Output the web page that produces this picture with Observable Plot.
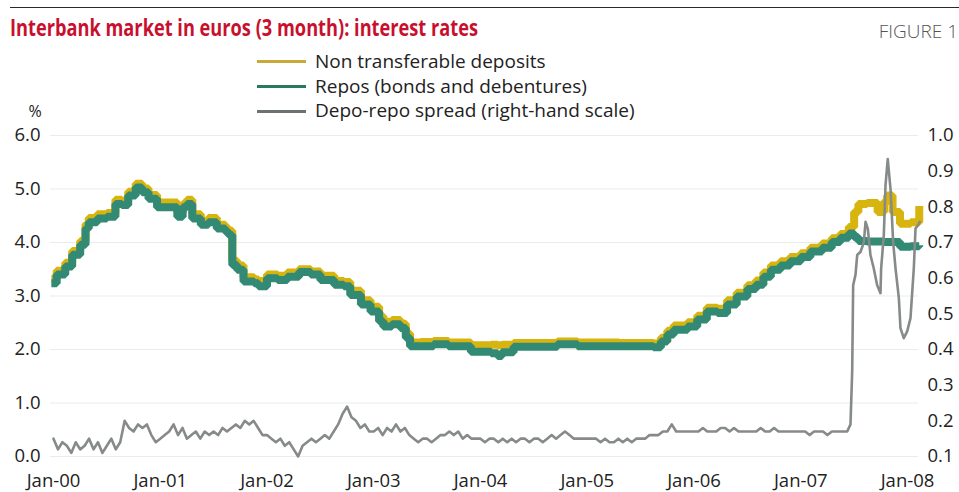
<!DOCTYPE html>
<html>
<head>
<meta charset="utf-8">
<script src="https://cdn.jsdelivr.net/npm/d3@7"></script>
<script src="https://cdn.jsdelivr.net/npm/@observablehq/plot@0.6"></script>
<style>
  html, body { margin: 0; padding: 0; background: #fff; }
  #wrap { position: relative; width: 959px; height: 492px; overflow: hidden; font-family: "Open Sans", sans-serif; }
  #rule { position: absolute; left: 10px; top: 7px; width: 949px; border-top: 1.5px solid #2a2a2a; }
  #title { position: absolute; left: 10px; top: 16px; font-size: 23px; line-height: 1; font-weight: 700; color: #c8102e; white-space: nowrap; transform-origin: left top; }
  #fig { position: absolute; right: 1px; top: 22px; font-size: 19px; line-height: 1; font-weight: 300; color: #555; white-space: nowrap; }
  .leg { position: absolute; left: 257px; width: 49px; height: 0; border-top: 3.5px solid; }
  .legt { position: absolute; left: 315px; font-size: 19px; line-height: 1; color: #222; white-space: nowrap; }
  #chart { position: absolute; left: 0; top: 100px; }
</style>
</head>
<body>
<div id="wrap">
  <div id="rule"></div>
  <div id="title">Interbank market in euros (3 month): interest rates</div>
  <div id="fig">FIGURE 1</div>
  <div id="chart"></div>
  <div class="leg" style="top:60px;border-color:#c9a93b"></div>
  <div class="legt" style="top:52px">Non transferable deposits</div>
  <div class="leg" style="top:85px;border-color:#257a5f"></div>
  <div class="legt" style="top:77px">Repos (bonds and debentures)</div>
  <div class="leg" style="top:110px;border-color:#6b7270"></div>
  <div class="legt" style="top:101px">Depo-repo spread (right-hand scale)</div>
</div>
<script>
// ---- data (decimal years) ----
const rateTimes = [1999.98, 2000.03, 2000.11, 2000.175, 2000.25, 2000.30, 2000.33, 2000.41, 2000.50, 2000.58, 2000.64, 2000.70, 2000.77, 2000.83, 2000.89, 2000.97,
  2001.10, 2001.16, 2001.21, 2001.25, 2001.30, 2001.38, 2001.45, 2001.53, 2001.61, 2001.64, 2001.675, 2001.72, 2001.78, 2001.88, 2001.92,
  2002.00, 2002.10, 2002.19, 2002.30, 2002.41, 2002.50, 2002.63, 2002.72, 2002.78, 2002.88, 2002.97,
  2003.05, 2003.09, 2003.17, 2003.25, 2003.30, 2003.34, 2003.44, 2003.56, 2003.70, 2003.91,
  2004.10, 2004.16, 2004.20, 2004.31, 2004.72, 2004.91, 2005.30, 2005.62, 2005.69, 2005.75, 2005.81, 2005.94,
  2006.03, 2006.12, 2006.22, 2006.31, 2006.40, 2006.50, 2006.58, 2006.65, 2006.72, 2006.81, 2006.90,
  2007.00, 2007.09, 2007.20, 2007.29, 2007.37, 2007.45, 2007.50, 2007.54, 2007.62, 2007.72, 2007.78, 2007.81, 2007.86, 2007.93, 2008.03, 2008.11];
const repos = [3.24, 3.40, 3.55, 3.77, 3.96, 4.26, 4.38, 4.45, 4.48, 4.72, 4.70, 4.88, 5.03, 4.94, 4.82, 4.66,
  4.66, 4.48, 4.66, 4.72, 4.45, 4.33, 4.38, 4.26, 4.20, 4.14, 3.58, 3.49, 3.27, 3.24, 3.18,
  3.33, 3.30, 3.36, 3.45, 3.40, 3.30, 3.21, 3.18, 3.02, 2.84, 2.71,
  2.53, 2.43, 2.47, 2.40, 2.22, 2.06, 2.06, 2.10, 2.06, 1.96,
  1.93, 1.88, 1.95, 2.05, 2.10, 2.06, 2.06, 2.04, 2.15, 2.28, 2.37, 2.43,
  2.56, 2.71, 2.68, 2.84, 2.99, 3.13, 3.21, 3.36, 3.49, 3.57, 3.65,
  3.73, 3.83, 3.90, 4.01, 4.09, 4.17, 4.10, 4.03, 4.02, 4.02, 4.01, 4.01, 4.01, 3.92, 3.93, 3.95];
const deposits = [3.32, 3.47, 3.62, 3.84, 4.03, 4.34, 4.46, 4.53, 4.55, 4.80, 4.78, 4.95, 5.10, 5.01, 4.89, 4.75,
  4.75, 4.56, 4.72, 4.80, 4.53, 4.40, 4.46, 4.33, 4.27, 4.22, 3.66, 3.57, 3.35, 3.31, 3.28,
  3.40, 3.38, 3.44, 3.50, 3.46, 3.38, 3.28, 3.26, 3.10, 2.92, 2.80,
  2.62, 2.52, 2.55, 2.48, 2.30, 2.13, 2.14, 2.16, 2.13, 2.08,
  2.09, 2.08, 2.09, 2.12, 2.15, 2.13, 2.12, 2.11, 2.22, 2.35, 2.45, 2.51,
  2.63, 2.78, 2.76, 2.92, 3.06, 3.20, 3.29, 3.44, 3.57, 3.65, 3.73,
  3.80, 3.90, 3.98, 4.08, 4.16, 4.29, 4.57, 4.72, 4.74, 4.57, 4.76, 4.88, 4.57, 4.35, 4.38, 4.68];

// spread (right-hand scale), semimonthly from Jan 2000 to May 2007
const spreadStart = 2000, spreadStep = 1 / 24;
const spreadSemimonthly = [
  0.15,0.12,0.14,0.13,0.11,0.14,0.12,0.13,0.15,0.12,0.14,0.11,0.13,0.15,0.12,0.14,0.20,0.18,0.17,0.19,0.18,0.19,0.16,0.14,
  0.15,0.16,0.17,0.19,0.16,0.18,0.15,0.16,0.17,0.15,0.17,0.16,0.17,0.16,0.18,0.17,0.18,0.19,0.18,0.20,0.19,0.20,0.18,0.16,
  0.16,0.15,0.14,0.15,0.13,0.14,0.12,0.10,0.13,0.14,0.15,0.14,0.15,0.16,0.15,0.17,0.19,0.22,0.24,0.21,0.20,0.18,0.19,0.17,
  0.17,0.18,0.16,0.18,0.17,0.19,0.17,0.18,0.16,0.15,0.14,0.15,0.15,0.14,0.15,0.16,0.16,0.17,0.16,0.17,0.15,0.16,0.15,0.15,
  0.15,0.14,0.15,0.15,0.14,0.15,0.14,0.15,0.14,0.15,0.15,0.14,0.15,0.15,0.14,0.15,0.16,0.15,0.16,0.17,0.16,0.15,0.15,0.15,
  0.15,0.15,0.15,0.14,0.15,0.14,0.14,0.15,0.14,0.15,0.14,0.15,0.15,0.15,0.16,0.16,0.16,0.17,0.17,0.19,0.17,0.17,0.17,0.17,
  0.17,0.17,0.18,0.17,0.17,0.17,0.18,0.18,0.17,0.18,0.17,0.17,0.17,0.17,0.17,0.18,0.17,0.17,0.18,0.17,0.17,0.17,0.17,0.17,
  0.17,0.17,0.16,0.17,0.17,0.17,0.16,0.17,0.17,0.17];
const spreadLateTimes = [2007.435, 2007.466, 2007.482, 2007.491, 2007.513, 2007.529, 2007.560, 2007.591, 2007.607, 2007.628,
  2007.653, 2007.684, 2007.716, 2007.747, 2007.753, 2007.778, 2007.794, 2007.815, 2007.841, 2007.866,
  2007.888, 2007.919, 2007.934, 2007.965, 2007.997, 2008.028, 2008.059, 2008.075, 2008.097, 2008.115];
const spreadLate = [0.17, 0.19, 0.34, 0.58, 0.61, 0.665, 0.674, 0.70, 0.758, 0.739,
  0.665, 0.627, 0.58, 0.558, 0.627, 0.72, 0.86, 0.934, 0.85, 0.70,
  0.627, 0.544, 0.46, 0.432, 0.451, 0.488, 0.627, 0.739, 0.748, 0.758];

const leftTicks = [0, 1, 2, 3, 4, 5, 6];
const rightTicks = [0.1, 0.2, 0.3, 0.4, 0.5, 0.6, 0.7, 0.8, 0.9, 1.0];
const xTicks = [2000, 2001, 2002, 2003, 2004, 2005, 2006, 2007, 2008];

// ---- build tables ----
const rates = rateTimes.map((t, i) => ({t, repo: repos[i], deposit: deposits[i]}));
const spread = spreadSemimonthly.map((v, i) => ({t: spreadStart + i * spreadStep, v}))
  .concat(spreadLateTimes.map((t, i) => ({t, v: spreadLate[i]})));
// right-hand scale (0.1..1.0) mapped onto the left scale (0..6)
const toLeft = r => (r - 0.1) / 0.15;
const toRight = l => l * 0.15 + 0.1;

const chart = Plot.plot({
  width: 959,
  height: 392,
  marginTop: 35,
  marginBottom: 36,
  marginLeft: 53,
  marginRight: 52,
  x: {type: "linear", domain: [2000, 2008]},
  y: {domain: [0, 6]},
  style: {fontFamily: "Open Sans, sans-serif", fontSize: "18.5px", color: "#222", background: "transparent", overflow: "visible"},
  marks: [
    Plot.gridY(leftTicks, {stroke: "#ebebeb", strokeOpacity: 1, insetLeft: -3, insetRight: -11}),
    Plot.line(rates, {x: "t", y: "deposit", curve: "step-after", stroke: "#d8b40e", strokeWidth: 8, strokeLinejoin: "miter", strokeLinecap: "butt"}),
    Plot.line(rates, {x: "t", y: "repo", curve: "step-after", stroke: "#338a74", strokeWidth: 8, strokeLinejoin: "miter", strokeLinecap: "butt"}),
    Plot.line(spread, {x: "t", y: d => toLeft(d.v), stroke: "#868a88", strokeWidth: 2.6, strokeLinejoin: "round"}),
    Plot.axisY(leftTicks, {tickSize: 0, tickPadding: 13, tickFormat: d => d.toFixed(1), label: null}),
    Plot.axisY(rightTicks.map(toLeft), {anchor: "right", tickSize: 0, tickPadding: 20, tickFormat: d => toRight(d).toFixed(1), label: null}),
    Plot.axisX(xTicks, {tickSize: 0, tickPadding: 17, tickFormat: d => "Jan-" + String(d % 100).padStart(2, "0"), label: null}),
    Plot.text(["%"], {frameAnchor: "top-left", text: d => d, dx: -25, dy: -30, fontSize: 16, fill: "#222"})
  ]
});
document.getElementById("chart").appendChild(chart);

// fit title width to the reference (ends at x≈478)
const title = document.getElementById("title");
const w = title.getBoundingClientRect().width;
title.style.transform = `scaleX(${468 / w})`;
</script>
</body>
</html>
